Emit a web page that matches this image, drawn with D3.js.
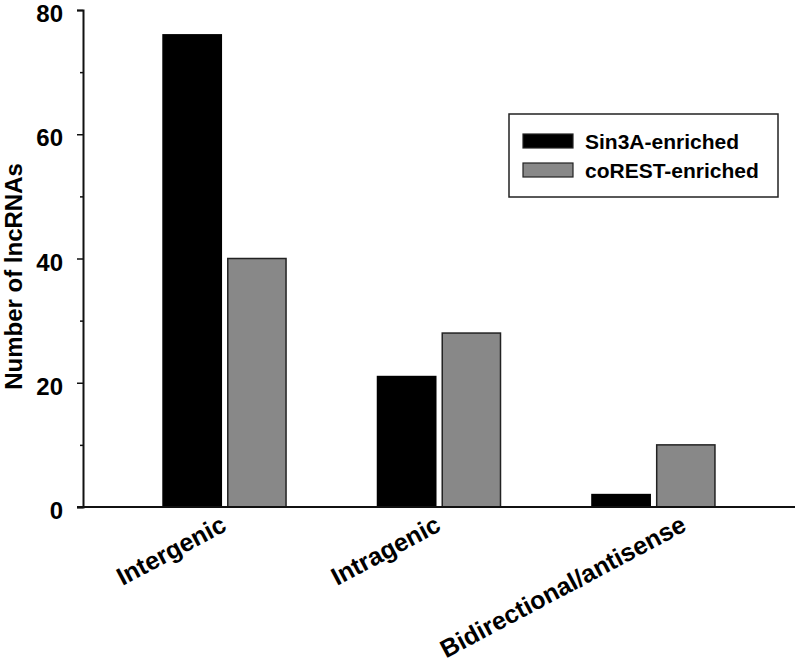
<!DOCTYPE html>
<html>
<head>
<meta charset="utf-8">
<script src="https://cdn.jsdelivr.net/npm/d3@7"></script>
<style>
  body { margin: 0; background: #fff; }
  text { font-family: "Liberation Sans", Arial, sans-serif; font-weight: bold; }
</style>
</head>
<body>
<div id="chart-area"></div>
<script>
// Dane
var categories = ["Intergenic", "Intragenic", "Bidirectional/antisense"];
var seriesNames = ["Sin3A-enriched", "coREST-enriched"];
var sin3aValues = [76, 21, 2];
var corestValues = [40, 28, 10];
var yTicks = [0, 20, 40, 60, 80];
var yMinorTicks = [10, 30, 50, 70];

var colors = { "Sin3A-enriched": "#000000", "coREST-enriched": "#888888" };

var width = 798, height = 663;
var plotLeft = 83, plotRight = 795, plotTop = 10, plotBottom = 507;

var svg = d3.select("#chart-area")
  .append("svg")
  .attr("width", width)
  .attr("height", height);

// Skale
var x = d3.scalePoint()
  .domain(categories)
  .range([plotLeft, plotRight])
  .padding(0.66);

var xInner = d3.scaleBand()
  .domain(seriesNames)
  .range([-61.5, 61.5])
  .paddingInner(0.1);

var y = d3.scaleLinear()
  .domain([0, 80])
  .range([plotBottom, plotTop]);

var rows = [];
categories.forEach(function (c, i) {
  rows.push({ cat: c, series: seriesNames[0], value: sin3aValues[i] });
  rows.push({ cat: c, series: seriesNames[1], value: corestValues[i] });
});

// Slupki
svg.selectAll("rect.bar")
  .data(rows)
  .enter()
  .append("rect")
    .attr("class", "bar")
    .attr("x", d => x(d.cat) + xInner(d.series))
    .attr("y", d => y(d.value))
    .attr("width", xInner.bandwidth())
    .attr("height", d => y(0) - y(d.value))
    .attr("fill", d => colors[d.series])
    .attr("stroke", d => d.series === seriesNames[0] ? "#000" : "#222")
    .attr("stroke-width", 1.5);

// Osie
var yAxisCall = d3.axisLeft(y)
  .tickValues(yTicks)
  .tickSize(6)
  .tickPadding(14)
  .tickFormat(d3.format("d"));
var yAxis = svg.append("g")
  .attr("transform", "translate(" + plotLeft + ",0)")
  .call(yAxisCall);
yAxis.select(".domain").attr("stroke", "#111").attr("stroke-width", 2);
yAxis.selectAll(".tick line").attr("stroke", "#111").attr("stroke-width", 1.5);
yAxis.selectAll(".tick text")
  .attr("font-size", "24px")
  .attr("fill", "#000")
  .attr("dy", "0.48em");

var yMinorCall = d3.axisLeft(y).tickValues(yMinorTicks).tickSize(3).tickFormat("");
var yMinor = svg.append("g")
  .attr("transform", "translate(" + plotLeft + ",0)")
  .call(yMinorCall);
yMinor.select(".domain").remove();
yMinor.selectAll(".tick line").attr("stroke", "#111").attr("stroke-width", 1.5);

var xAxisCall = d3.axisBottom(x).tickSize(0).tickSizeOuter(0).tickPadding(0);
var xAxis = svg.append("g")
  .attr("transform", "translate(0," + plotBottom + ")")
  .call(xAxisCall);
xAxis.select(".domain").attr("stroke", "#111").attr("stroke-width", 2)
  .attr("d", "M" + (plotLeft - 6) + ",0H" + plotRight);
xAxis.selectAll(".tick text")
  .attr("font-size", "25px")
  .attr("fill", "#000")
  .attr("text-anchor", "end")
  .attr("dy", 0)
  .attr("transform", function () {
    // dluzsze etykiety przesuniete w prawo
    var len = this.getComputedTextLength();
    var dx = -21 + 0.2 * len;
    return "translate(" + dx + ",23) rotate(-28)";
  });

// Etykieta osi Y
svg.append("text")
  .attr("x", -276.5)
  .attr("y", 22)
  .attr("font-size", "24px")
  .attr("text-anchor", "middle")
  .attr("transform", "rotate(-90)")
  .text("Number of lncRNAs");

// Legenda
var legend = svg.append("g");
legend.append("rect")
  .attr("x", 509).attr("y", 114)
  .attr("width", 269).attr("height", 83)
  .attr("fill", "#fff")
  .attr("stroke", "#222")
  .attr("stroke-width", 1.5);

var li = legend.selectAll("g.item")
  .data(seriesNames)
  .enter()
  .append("g")
    .attr("class", "item")
    .attr("transform", (d, i) => "translate(523," + (134 + i * 29) + ")");
li.append("rect")
  .attr("width", 50).attr("height", 14)
  .attr("fill", d => colors[d])
  .attr("stroke", "#222")
  .attr("stroke-width", 1.2);
li.append("text")
  .attr("x", 62).attr("y", 15)
  .attr("font-size", "21px")
  .text(d => d);
</script>
</body>
</html>
